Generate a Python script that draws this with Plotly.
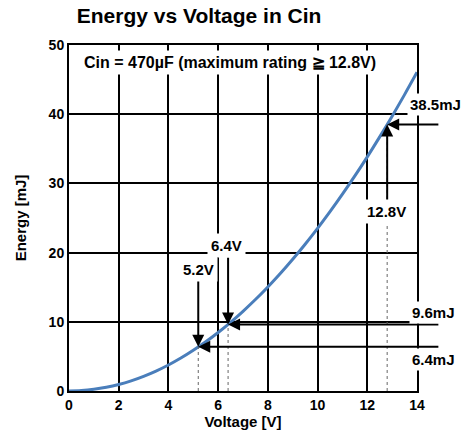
import plotly.graph_objects as go

# Curve (Energy in mJ vs Voltage in V)
voltage = [0, 0.5, 1, 1.5, 2, 2.5, 3, 3.5, 4, 4.5, 5, 5.5, 6, 6.5, 7,
           7.5, 8, 8.5, 9, 9.5, 10, 10.5, 11, 11.5, 12, 12.5, 13, 13.5, 14]
energy = [0.0, 0.06, 0.24, 0.53, 0.94, 1.47, 2.12, 2.88, 3.76, 4.76, 5.88,
          7.11, 8.46, 9.93, 11.52, 13.22, 15.04, 16.98, 19.04, 21.21, 23.5,
          25.91, 28.44, 31.08, 33.84, 36.72, 39.72, 42.83, 46.06]

# Callout points
callout_v = [5.2, 6.4, 12.8]
callout_e = [6.4, 9.6, 38.5]
callout_v_labels = ["5.2V", "6.4V", "12.8V"]
callout_e_labels = ["6.4mJ", "9.6mJ", "38.5mJ"]

x_ticks = [0, 2, 4, 6, 8, 10, 12, 14]
y_ticks = [0, 10, 20, 30, 40, 50]

title_text = "Energy vs Voltage in Cin"
note_text = "Cin = 470µF (maximum rating ≧ 12.8V)"

FONT = "Liberation Sans, Arial, sans-serif"
BLUE = "#4a7ebb"

fig = go.Figure()
fig.add_trace(go.Scatter(x=voltage, y=energy, mode="lines",
                         line=dict(color=BLUE, width=3, shape="spline"),
                         hoverinfo="skip", showlegend=False))

shapes = []
for v, e in zip(callout_v, callout_e):
    shapes.append(dict(type="line", xref="x", yref="y", x0=v, x1=v, y0=0, y1=e,
                       line=dict(color="#666666", width=1, dash="dot")))

annotations = []
# vertical arrow tails (y) and label positions
v_tail_y = [16.5, 19.5, 26.0]
v_label_xy = [(5.19, 17.6), (6.32, 21.0), (12.79, 25.9)]
for v, e, ty in zip(callout_v, callout_e, v_tail_y):
    annotations.append(dict(x=v, y=e, xref="x", yref="y", ax=v, ay=ty,
                            axref="x", ayref="y", text="", showarrow=True,
                            arrowhead=2, arrowsize=1.2, arrowwidth=2,
                            arrowcolor="black"))
# horizontal arrows from right side
for v, e in zip(callout_v, callout_e):
    annotations.append(dict(x=v, y=e, xref="x", yref="y", ax=14.92, ay=e,
                            axref="x", ayref="y", text="", showarrow=True,
                            arrowhead=2, arrowsize=1.2, arrowwidth=2,
                            arrowcolor="black"))
# labels
lab_font = dict(family=FONT, size=15, color="black", weight="bold")
for txt, (lx, ly) in zip(callout_v_labels, v_label_xy):
    annotations.append(dict(x=lx, y=ly, xref="x", yref="y", text=txt,
                            showarrow=False, bgcolor="white", borderpad=3,
                            xanchor="center", yanchor="middle", font=lab_font))
# right-side energy labels, placed in paper coordinates (outside the x range)
e_label_xy = [(1.046, 0.09), (1.046, 0.228), (1.052, 0.827)]
for txt, (lx, ly) in zip(callout_e_labels, e_label_xy):
    annotations.append(dict(x=lx, y=ly, xref="paper", yref="paper", text=txt,
                            showarrow=False, bgcolor="white", borderpad=2,
                            xanchor="center", yanchor="middle", font=lab_font))
annotations.append(dict(x=6.46, y=47.4, xref="x", yref="y", text=note_text,
                        showarrow=False, bgcolor="white", borderpad=3,
                        xanchor="center", yanchor="middle",
                        font=dict(family=FONT, size=16, color="black", weight="bold")))

axis_common = dict(showgrid=True, gridcolor="black", gridwidth=2,
                   showline=True, linecolor="black", linewidth=2, mirror=True,
                   zeroline=False, ticks="", automargin=False,
                   tickfont=dict(family=FONT, size=14, color="black", weight="bold"))

fig.update_layout(
    width=464, height=434,
    margin=dict(l=69, r=47, t=45, b=43),
    paper_bgcolor="white", plot_bgcolor="white",
    title=dict(text=title_text, x=0.429, xanchor="center", y=0.965, yanchor="middle",
               font=dict(family=FONT, size=21, color="black", weight="bold")),
    xaxis=dict(range=[0, 14], tickvals=x_ticks,
               title=dict(text="Voltage [V]", standoff=5,
                          font=dict(family=FONT, size=15, color="black", weight="bold")),
               **axis_common),
    yaxis=dict(range=[0, 50], tickvals=y_ticks,
               title=dict(text="Energy [mJ]", standoff=18,
                          font=dict(family=FONT, size=15, color="black", weight="bold")),
               **axis_common),
    shapes=shapes,
    annotations=annotations,
)

fig.write_html("out.html")
